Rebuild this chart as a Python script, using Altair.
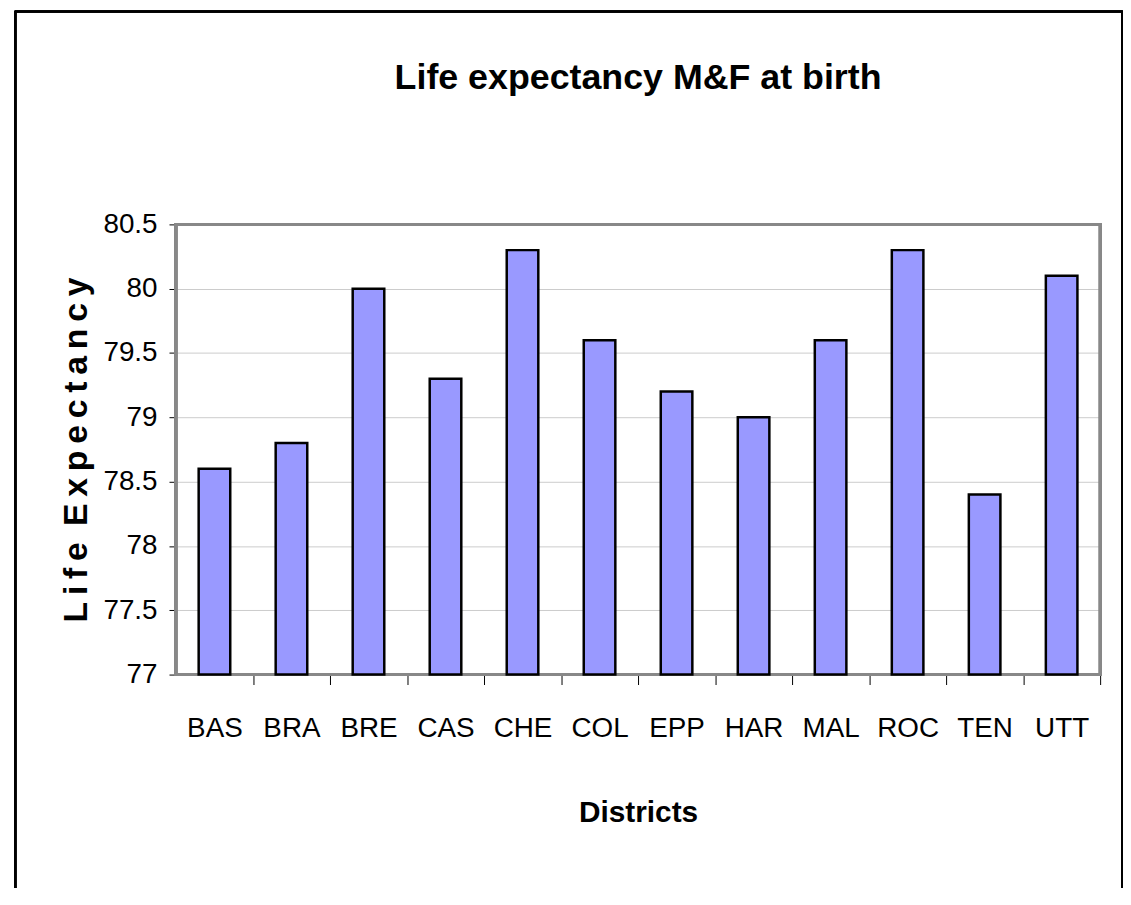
import altair as alt
import pandas as pd

districts = ["BAS", "BRA", "BRE", "CAS", "CHE", "COL", "EPP", "HAR", "MAL", "ROC", "TEN", "UTT"]
life_expectancy = [78.6, 78.8, 80.0, 79.3, 80.3, 79.6, 79.2, 79.0, 79.6, 80.3, 78.4, 80.1]
y_ticks = [77, 77.5, 78, 78.5, 79, 79.5, 80, 80.5]
y_min, y_max = 77, 80.5

df = pd.DataFrame({"District": districts, "Life": life_expectancy})

FONT = "Liberation Sans, Arial, sans-serif"
W, H = 930, 453
PL, PT, PR = 169, 215, 23
CANVAS_H = 880
TS = "\u2009"
y_title = TS.join(["L", "i", "f", "e"]) + " " + TS + TS.join(list("Expectancy"))
STEP = W / len(districts)

bars = alt.Chart(df).mark_bar(
    fill="#9999FF", stroke="#000000", strokeWidth=2.5
).encode(
    x=alt.X(
        "District:N", sort=districts,
        scale=alt.Scale(paddingInner=0.59, paddingOuter=0.295),
        axis=alt.Axis(
            title="Districts", titleFont=FONT, titleFontSize=30, titleFontWeight="bold",
            titlePadding=56, labelFont=FONT, labelFontSize=28, labelPadding=30,
            labelAngle=0, tickOffset=STEP / 2, labelOffset=-STEP / 2,
            tickSize=10, tickColor="#000000",
            domainColor="#888888", domainWidth=2, grid=False, labelColor="#000000",
            titleColor="#000000",
        ),
    ),
    y=alt.Y(
        "Life:Q",
        scale=alt.Scale(domain=[y_min, y_max], nice=False, zero=False),
        axis=alt.Axis(
            title=y_title, titleFont=FONT,
            titleFontSize=34, titleFontWeight="bold", titlePadding=10,
            values=y_ticks, format=".1~f",
            labelFont=FONT, labelFontSize=28, labelPadding=12,
            tickSize=7, tickColor="#000000", domainColor="#888888", domainWidth=2,
            gridColor="#cccccc", gridWidth=1, labelColor="#000000", titleColor="#000000",
        ),
    ),
    y2=alt.datum(y_min),
)

frame = alt.Chart(df).mark_rect(
    fill=None, stroke="#888888", strokeWidth=2.5
).encode(
    x=alt.value(0), x2=alt.value(W), y=alt.value(0), y2=alt.value(H),
)

border = alt.Chart(df).mark_rect(
    fill=None, stroke="#000000", strokeWidth=1.5
).encode(
    x=alt.value(-PL + 7.5), x2=alt.value(W + PR - 1),
    y=alt.value(-PT + 0.75), y2=alt.value(H + 400),
)

chart = alt.layer(frame, bars, border).properties(
    width=W, height=H,
    padding={"left": PL, "top": PT, "right": PR, "bottom": CANVAS_H - PT - H},
    autosize=alt.AutoSizeParams(type="none"),
    title=alt.TitleParams(
        "Life expectancy M&F at birth", font=FONT, fontSize=36, fontWeight="bold",
        color="#000000", offset=-87,
    ),
).configure_view(
    stroke=None
).configure(background="white")

chart.save("out.html", embed_options={"renderer": "svg", "actions": False})
